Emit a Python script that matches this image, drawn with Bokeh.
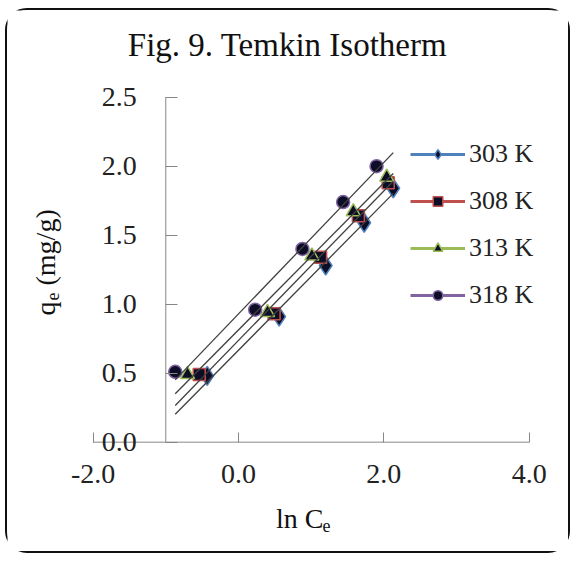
import numpy as np
from bokeh.plotting import figure
from bokeh.models import (Range1d, LinearAxis, FixedTicker, PrintfTickFormatter,
                          Label, Legend, LegendItem)
from bokeh.embed import file_html
from bokeh.resources import INLINE

# ---- data ----
series_names = ["303 K", "308 K", "313 K", "318 K"]
x_303 = [-0.43, 0.56, 1.20, 1.73, 2.13]
y_303 = [0.48, 0.91, 1.28, 1.59, 1.84]
x_308 = [-0.54, 0.49, 1.13, 1.65, 2.06]
y_308 = [0.49, 0.93, 1.34, 1.64, 1.88]
x_313 = [-0.70, 0.40, 1.01, 1.58, 2.04]
y_313 = [0.49, 0.94, 1.35, 1.67, 1.92]
x_318 = [-0.87, 0.23, 0.88, 1.44, 1.90]
y_318 = [0.51, 0.96, 1.40, 1.74, 2.00]
x_ticks = [-2.0, 0.0, 2.0, 4.0]
y_ticks = [0.0, 0.5, 1.0, 1.5, 2.0, 2.5]
x_limits = (-2.0, 4.0)
y_limits = (0.0, 2.5)
y_axis_cross = -1.0

xs = [x_303, x_308, x_313, x_318]
ys = [y_303, y_308, y_313, y_318]
colors = ["#4F81BD", "#C0504D", "#9BBB59", "#8064A2"]
markers = ["diamond", "square", "triangle", "circle"]
sizes = [19, 12, 14, 13]
FONT = "Liberation Serif"

# ---- layout (pixels) ----
FIG_W, FIG_H = 565, 545
BORDER = 2
CW, CH = FIG_W - 2 * BORDER, FIG_H - 2 * BORDER   # canvas size inside border
ORIGIN_X, ORIGIN_Y = 5 + BORDER, 8 + BORDER       # canvas origin on the page
# page pixels of the axis box
AX_X0, AX_X1 = 92, 525      # x_limits
AX_Y0, AX_Y1 = 438.5, 96    # y_limits (bottom, top)

cx0, cx1 = AX_X0 - ORIGIN_X, AX_X1 - ORIGIN_X
cy0, cy1 = AX_Y0 - ORIGIN_Y, AX_Y1 - ORIGIN_Y
kx = (cx1 - cx0) / (x_limits[1] - x_limits[0])
ky = (cy0 - cy1) / (y_limits[1] - y_limits[0])
x_range = Range1d(x_limits[0] - cx0 / kx, x_limits[0] + (CW - cx0) / kx)
y_range = Range1d(y_limits[0] - (CH - cy0) / ky, y_limits[1] + cy1 / ky)

p = figure(width=FIG_W, height=FIG_H, x_range=x_range, y_range=y_range,
           output_backend="svg", toolbar_location=None, x_axis_type=None, y_axis_type=None,
           min_border=0, min_border_left=0, min_border_right=0, min_border_top=0,
           min_border_bottom=0)
p.title.visible = False
p.grid.visible = False
p.outline_line_color = None
p.background_fill_color = "white"
p.border_fill_color = "white"
p.styles = {"border": f"{BORDER}px solid #111111", "border-radius": "22px",
            "box-sizing": "border-box", "margin-left": "5px", "margin-top": "8px"}

AXIS_COLOR = "#868686"
# axis lines drawn over the axis limits only
p.segment(x0=[x_limits[0], y_axis_cross], y0=[y_limits[0], y_limits[0]],
          x1=[x_limits[1], y_axis_cross], y1=[y_limits[0], y_limits[1]],
          line_color=AXIS_COLOR, line_width=1)

xax = LinearAxis(fixed_location=y_limits[0], ticker=FixedTicker(ticks=x_ticks),
                 formatter=PrintfTickFormatter(format="%.1f"),
                 major_tick_in=10, major_tick_out=0, minor_tick_in=0, minor_tick_out=0,
                 major_label_standoff=23, axis_line_color=None, major_tick_line_color=AXIS_COLOR,
                 major_label_text_font=FONT, major_label_text_font_size="28px",
                 major_label_text_color="#222222")
p.add_layout(xax, "below")

yax = LinearAxis(fixed_location=y_axis_cross, ticker=FixedTicker(ticks=y_ticks),
                 formatter=PrintfTickFormatter(format="%.1f"),
                 major_tick_in=12, major_tick_out=0, minor_tick_in=0, minor_tick_out=0,
                 major_label_standoff=29, axis_line_color=None, major_tick_line_color=AXIS_COLOR,
                 major_label_text_font=FONT, major_label_text_font_size="28px",
                 major_label_text_color="#222222")
p.add_layout(yax, "left")

all_x = np.concatenate([np.array(v) for v in xs])
line_x = np.array([all_x.min(), all_x.max()])

items = []
for name, xv, yv, c, m, s in zip(series_names, xs, ys, colors, markers, sizes):
    proxy = p.line(x=[np.nan], y=[np.nan], line_color=c, line_width=3)
    r = p.scatter(x=xv, y=yv, marker=m, size=s, fill_color="#0d0d26", line_color=c, line_width=1.5)
    items.append(LegendItem(label=name, renderers=[proxy, r]))

for xv, yv in zip(xs, ys):
    k, b = np.polyfit(xv, yv, 1)
    p.line(x=line_x, y=k * line_x + b, line_color="#404040", line_width=1.3)

# legend: bottom-left corner in frame pixels (y up)
LEG_LEFT_PX, LEG_BOTTOM_PX = 410, 306
legend = Legend(items=items, location=(LEG_LEFT_PX - ORIGIN_X, CH - (LEG_BOTTOM_PX - ORIGIN_Y)),
                glyph_width=55, glyph_height=24, label_height=24, spacing=17, padding=0,
                margin=0, label_standoff=4, border_line_color=None, background_fill_alpha=0,
                label_text_font=FONT, label_text_font_size="26px", label_text_color="#222222")
p.add_layout(legend, "center")

def lab(text, px, py, size, align="left", baseline="alphabetic", angle=0.0):
    p.add_layout(Label(x=px - ORIGIN_X, y=CH - (py - ORIGIN_Y), x_units="screen", y_units="screen",
                       text=text, text_font=FONT, text_font_size=size, text_align=align,
                       text_baseline=baseline, angle=angle, text_color="#111111"))

lab("Fig. 9. Temkin Isotherm", 287, 40, "33px", align="center")
lab("ln C", 323, 514, "28px", align="right")
lab("e", 322, 521, "18px")
lab("q", 45, 311, "28px", angle=np.pi / 2)
lab("e", 52, 296, "18px", angle=np.pi / 2)
lab("(mg/g)", 45, 281, "28px", angle=np.pi / 2)

open("out.html", "w").write(file_html(p, INLINE))
